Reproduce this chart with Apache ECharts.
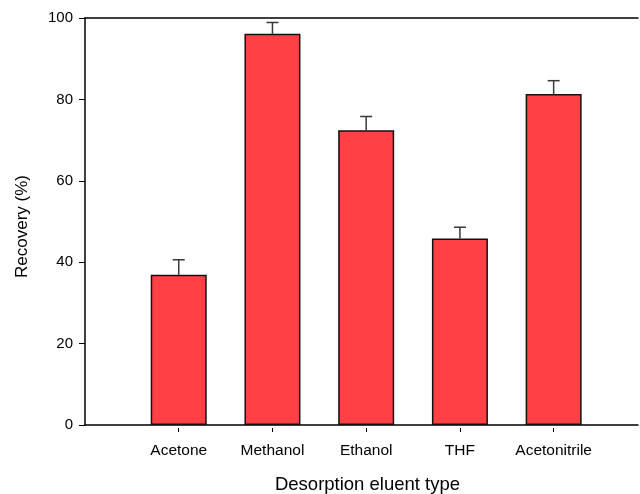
<!DOCTYPE html>
<html>
<head>
<meta charset="utf-8">
<script src="https://cdn.jsdelivr.net/npm/echarts@6/dist/echarts.min.js"></script>
<style>html,body{margin:0;padding:0;background:#fff;}#c{width:640px;height:494px;}</style>
</head>
<body>
<div id="c"></div>
<script>
var categories = ['Acetone', 'Methanol', 'Ethanol', 'THF', 'Acetonitrile'];
var recovery = [36.9, 96.1, 72.4, 45.8, 81.3];
var errorTop = [40.6, 98.9, 75.8, 48.6, 84.6];
var yTicks = [0, 20, 40, 60, 80, 100];

var positions = categories.map(function (c, i) { return i + 1; });
var barData = recovery.map(function (v, i) { return [positions[i], v]; });
var errData = errorTop.map(function (v, i) { return [positions[i], recovery[i], v]; });

var font = 'Liberation Sans, Arial, sans-serif';
var chart = echarts.init(document.getElementById('c'), null, { renderer: 'canvas' });
chart.setOption({
  animation: false,
  backgroundColor: '#fff',
  grid: { left: 85, right: 2, top: 18, bottom: 69, containLabel: false, outerBoundsMode: 'none' },
  xAxis: [
    {
      type: 'value', min: 0, max: 5.9, position: 'bottom',
      axisLine: { show: true, lineStyle: { color: '#000', width: 1.5 } },
      axisTick: { show: false }, axisLabel: { show: false }, splitLine: { show: false }
    },
    {
      type: 'value', min: 0, max: 5.9, position: 'bottom', offset: 3,
      axisLine: { show: false },
      axisTick: { show: true, length: 4, customValues: positions, lineStyle: { color: '#000', width: 1 } },
      axisLabel: {
        customValues: positions, margin: 15, color: '#000', fontSize: 15.5, fontFamily: font,
        formatter: function (v) { return categories[Math.round(v) - 1] || ''; }
      },
      splitLine: { show: false },
      name: 'Desorption eluent type', nameLocation: 'middle', nameGap: 47,
      nameTextStyle: { color: '#000', fontSize: 18.5, fontFamily: font, padding: [0, 0, 0, 12] }
    },
    {
      type: 'value', min: 0, max: 5.9, position: 'top',
      axisLine: { show: true, lineStyle: { color: '#000', width: 1.5 } },
      axisTick: { show: false }, axisLabel: { show: false }, splitLine: { show: false }
    }
  ],
  yAxis: {
    type: 'value', min: 0, max: 100, interval: 20,
    axisLine: { show: true, lineStyle: { color: '#000', width: 1.5 } },
    axisTick: { show: true, inside: false, length: 6, lineStyle: { color: '#000', width: 1 } },
    axisLabel: { margin: 12, color: '#000', fontSize: 15, fontFamily: font,
      customValues: yTicks },
    splitLine: { show: false },
    name: 'Recovery (%)', nameLocation: 'middle', nameGap: 54,
    nameTextStyle: { color: '#000', fontSize: 17, fontFamily: font, padding: [0, 10, 0, 0] }
  },
  series: [
    {
      type: 'bar', xAxisIndex: 0, data: barData, barWidth: 56,
      itemStyle: { color: '#ff4044', borderColor: '#111', borderWidth: 1.5 },
      z: 2
    },
    {
      type: 'custom', xAxisIndex: 0, data: errData, z: 3,
      renderItem: function (params, api) {
        var x = api.value(0);
        var b = api.coord([x, api.value(1)]);
        var t = api.coord([x, api.value(2)]);
        var hw = 6;
        var st = { stroke: '#383838', lineWidth: 1.5 };
        return {
          type: 'group',
          children: [
            { type: 'line', shape: { x1: b[0], y1: b[1], x2: t[0], y2: t[1] }, style: st },
            { type: 'line', shape: { x1: t[0] - hw, y1: t[1], x2: t[0] + hw, y2: t[1] }, style: st }
          ]
        };
      }
    }
  ]
});
</script>
</body>
</html>
